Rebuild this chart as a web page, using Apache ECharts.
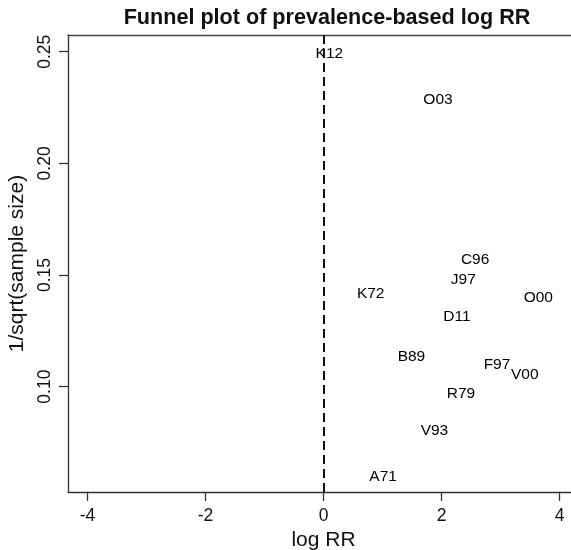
<!DOCTYPE html>
<html>
<head>
<meta charset="utf-8">
<script src="https://cdn.jsdelivr.net/npm/echarts@6/dist/echarts.min.js"></script>
<style>
html,body{margin:0;padding:0;background:#fff;}
#chart{width:571px;height:550px;}
</style>
</head>
<body>
<div id="chart"></div>
<script>
// Data (label, log RR, 1/sqrt(sample size))
const codes   = ['K12','O03','C96','J97','K72','O00','D11','B89','F97','V00','R79','V93','A71'];
const logRR   = [0.10, 1.94, 2.57, 2.37, 0.80, 3.64, 2.26, 1.49, 2.94, 3.41, 2.33, 1.88, 1.01];
const invSqrtN= [0.2493, 0.2284, 0.1567, 0.1481, 0.1418, 0.1400, 0.1313, 0.1134, 0.1100, 0.1052, 0.0970, 0.0803, 0.0596];
const xTicks  = [-4, -2, 0, 2, 4];
const yTicks  = [0.10, 0.15, 0.20, 0.25];
const refLineX = 0;

const FONT = '"Liberation Sans", Arial, Helvetica, sans-serif';
const INK = '#000';
const points = codes.map((c, i) => ({ name: c, value: [logRR[i], invSqrtN[i]] }));

const chart = echarts.init(document.getElementById('chart'), null, { renderer: 'canvas' });
chart.setOption({
  animation: false,
  backgroundColor: '#ffffff',
  title: {
    text: 'Funnel plot of prevalence-based log RR',
    left: 322, top: 2, textAlign: 'center',
    textStyle: { fontFamily: FONT, fontSize: 21.6, fontWeight: 'bold', color: '#111' }
  },
  grid: {
    left: 68, top: 35, width: 511, height: 457,
    outerBoundsMode: 'none', containLabel: false,
    show: false
  },
  xAxis: [{
    type: 'value', min: -4.33, max: 4.33,
    name: 'log RR', nameLocation: 'middle', nameGap: 35,
    nameTextStyle: { fontFamily: FONT, fontSize: 21, color: '#111' },
    axisLine: { show: true, onZero: false, lineStyle: { color: '#333', width: 1.3 } },
    axisTick: { show: true, length: 9, customValues: xTicks, lineStyle: { color: '#333', width: 1.3 } },
    axisLabel: { show: true, customValues: xTicks, margin: 15, fontFamily: FONT, fontSize: 17.5, color: '#111',
      formatter: v => String(Math.round(v)) },
    splitLine: { show: false }
  }, {
    type: 'value', position: 'top', min: -4.33, max: 4.33,
    axisLine: { show: true, onZero: false, lineStyle: { color: '#444', width: 1.3 } },
    axisTick: { show: false }, axisLabel: { show: false }, splitLine: { show: false }
  }],
  yAxis: {
    type: 'value', min: 0.0528, max: 0.2575,
    name: '1/sqrt(sample size)', nameLocation: 'middle', nameGap: 40,
    nameTextStyle: { fontFamily: FONT, fontSize: 21, color: '#111' },
    axisLine: { show: true, onZero: false, lineStyle: { color: '#333', width: 1.3 } },
    axisTick: { show: true, length: 9, customValues: yTicks, lineStyle: { color: '#333', width: 1.3 } },
    axisLabel: { show: true, customValues: yTicks, rotate: 90, margin: 14, fontFamily: FONT, fontSize: 17.5, color: '#111',
      formatter: v => v.toFixed(2) },
    splitLine: { show: false }
  },
  series: [{
    type: 'scatter',
    xAxisIndex: 0,
    data: points,
    symbolSize: 1,
    itemStyle: { color: 'rgba(0,0,0,0)' },
    label: {
      show: true, position: 'inside', formatter: p => p.name,
      fontFamily: FONT, fontSize: 15.5, color: INK, textBorderWidth: 0, opacity: 1
    },
    emphasis: { disabled: true },
    markLine: {
      silent: true, symbol: 'none',
      label: { show: false },
      lineStyle: { color: '#111', width: 2, type: [9, 5] },
      data: [{ xAxis: refLineX }]
    },
    z: 3
  }]
});
</script>
</body>
</html>
